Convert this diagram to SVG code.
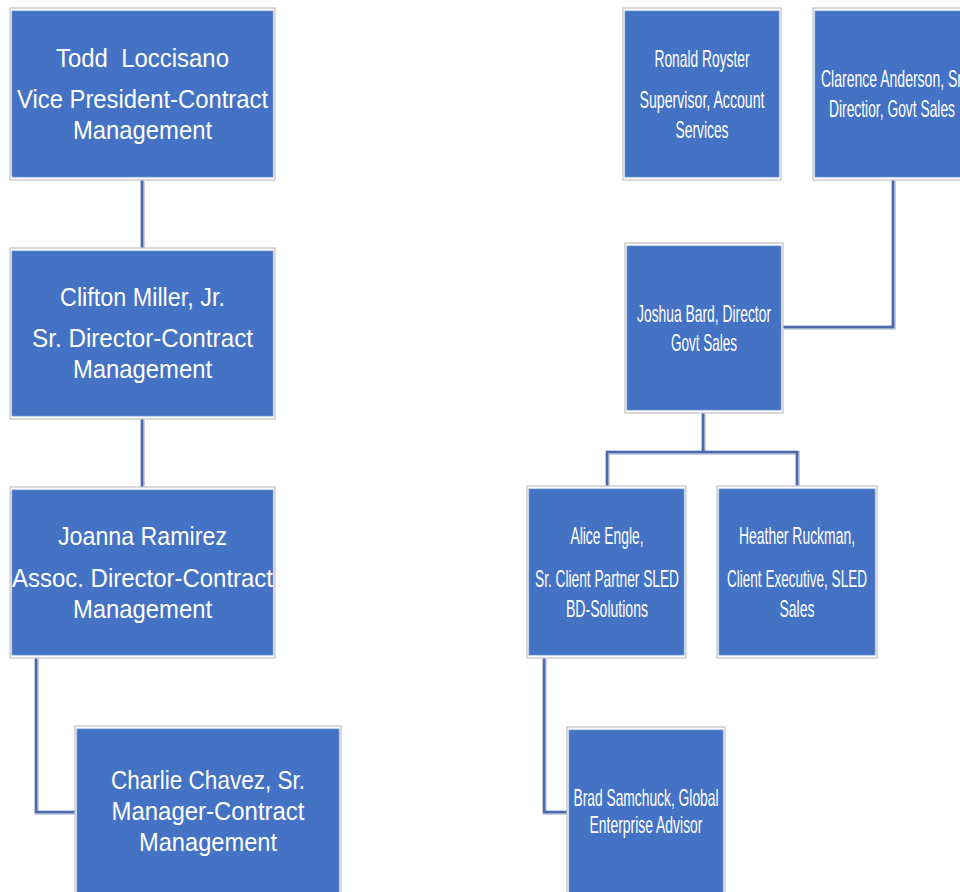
<svg xmlns="http://www.w3.org/2000/svg" width="960" height="892" viewBox="0 0 960 892">
<style>
.frame{fill:#ffffff;stroke:#c2c2c2;stroke-width:1.2}
.fill{fill:#4472c4;stroke:#6d8fd0;stroke-width:0.8}
.conn{fill:none;stroke:#4a6aad;stroke-width:2.6;stroke-linejoin:miter}
.shadow{fill:none;stroke:#b8c4dc;stroke-width:4;stroke-linejoin:miter}
.t{fill:#ffffff;font-family:"Liberation Sans",Arial,sans-serif;font-size:26px;text-anchor:middle}
.n{fill:#ffffff;font-family:"Liberation Sans Narrow","Liberation Sans",Arial,sans-serif;font-size:24px;text-anchor:middle}
</style>
<rect width="960" height="892" fill="#ffffff"/>
<g id="connectors">
<path class="shadow" d="M142,180 V248 M142,419 V487 M36,658 V812 H75 M893,180 V327 H783 M703,413 V452 M607,487 V452 H797 V487 M544,658 V812 H567" transform="translate(0.8,0.8)"/>
<path class="conn" d="M142,180 V248 M142,419 V487 M36,658 V812 H75 M893,180 V327 H783 M703,413 V452 M607,487 V452 H797 V487 M544,658 V812 H567"/>
</g>
<g id="todd">
<rect class="frame" x="10" y="8" width="265" height="172"/>
<rect class="fill" x="12" y="11" width="261" height="166"/>
<text class="t" x="142.5" y="67" textLength="173" lengthAdjust="spacingAndGlyphs" style="white-space:pre">Todd  Loccisano</text>
<text class="t" x="142.5" y="108" textLength="251" lengthAdjust="spacingAndGlyphs">Vice President-Contract</text>
<text class="t" x="142.5" y="139" textLength="139" lengthAdjust="spacingAndGlyphs">Management</text>
</g>
<g id="clifton">
<rect class="frame" x="10" y="248" width="265" height="171"/>
<rect class="fill" x="12" y="251" width="261" height="165"/>
<text class="t" x="142.5" y="306" textLength="165" lengthAdjust="spacingAndGlyphs">Clifton Miller, Jr.</text>
<text class="t" x="142.5" y="347" textLength="221" lengthAdjust="spacingAndGlyphs">Sr. Director-Contract</text>
<text class="t" x="142.5" y="378" textLength="139" lengthAdjust="spacingAndGlyphs">Management</text>
</g>
<g id="joanna">
<rect class="frame" x="10" y="487" width="265" height="171"/>
<rect class="fill" x="12" y="490" width="261" height="165"/>
<text class="t" x="142.5" y="545" textLength="169" lengthAdjust="spacingAndGlyphs">Joanna Ramirez</text>
<text class="t" x="142.5" y="587" textLength="261" lengthAdjust="spacingAndGlyphs">Assoc. Director-Contract</text>
<text class="t" x="142.5" y="618" textLength="139" lengthAdjust="spacingAndGlyphs">Management</text>
</g>
<g id="charlie">
<rect class="frame" x="75" y="726" width="266" height="180"/>
<rect class="fill" x="77" y="729" width="262" height="180"/>
<text class="t" x="208" y="789" textLength="194" lengthAdjust="spacingAndGlyphs">Charlie Chavez, Sr.</text>
<text class="t" x="208" y="820" textLength="193" lengthAdjust="spacingAndGlyphs">Manager-Contract</text>
<text class="t" x="208" y="851" textLength="138" lengthAdjust="spacingAndGlyphs">Management</text>
</g>
<g id="ronald">
<rect class="frame" x="623" y="8" width="158" height="172"/>
<rect class="fill" x="625" y="11" width="154" height="166"/>
<text class="n" x="702" y="67" textLength="95" lengthAdjust="spacingAndGlyphs">Ronald Royster</text>
<text class="n" x="702" y="108" textLength="125" lengthAdjust="spacingAndGlyphs">Supervisor, Account</text>
<text class="n" x="702" y="138" textLength="53" lengthAdjust="spacingAndGlyphs">Services</text>
</g>
<g id="clarence">
<rect class="frame" x="813" y="8" width="158" height="172"/>
<rect class="fill" x="815" y="11" width="154" height="166"/>
<text class="n" x="821" y="87" textLength="141" lengthAdjust="spacingAndGlyphs" style="text-anchor:start">Clarence Anderson, Sr</text>
<text class="n" x="892" y="117" textLength="126" lengthAdjust="spacingAndGlyphs">Directior, Govt Sales</text>
</g>
<g id="joshua">
<rect class="frame" x="625" y="243" width="158" height="170"/>
<rect class="fill" x="627" y="246" width="154" height="164"/>
<text class="n" x="704" y="322" textLength="134" lengthAdjust="spacingAndGlyphs">Joshua Bard, Director</text>
<text class="n" x="704" y="351" textLength="66" lengthAdjust="spacingAndGlyphs">Govt Sales</text>
</g>
<g id="alice">
<rect class="frame" x="527" y="486" width="159" height="172"/>
<rect class="fill" x="529" y="489" width="155" height="166"/>
<text class="n" x="607" y="544" textLength="73" lengthAdjust="spacingAndGlyphs">Alice Engle,</text>
<text class="n" x="607" y="587" textLength="144" lengthAdjust="spacingAndGlyphs">Sr. Client Partner SLED</text>
<text class="n" x="607" y="617" textLength="82" lengthAdjust="spacingAndGlyphs">BD-Solutions</text>
</g>
<g id="heather">
<rect class="frame" x="717" y="486" width="160" height="172"/>
<rect class="fill" x="719" y="489" width="156" height="166"/>
<text class="n" x="797" y="544" textLength="116" lengthAdjust="spacingAndGlyphs">Heather Ruckman,</text>
<text class="n" x="797" y="587" textLength="140" lengthAdjust="spacingAndGlyphs">Client Executive, SLED</text>
<text class="n" x="797" y="617" textLength="35" lengthAdjust="spacingAndGlyphs">Sales</text>
</g>
<g id="brad">
<rect class="frame" x="567" y="727" width="158" height="180"/>
<rect class="fill" x="569" y="730" width="154" height="180"/>
<text class="n" x="646" y="806" textLength="145" lengthAdjust="spacingAndGlyphs">Brad Samchuck, Global</text>
<text class="n" x="646" y="833" textLength="113" lengthAdjust="spacingAndGlyphs">Enterprise Advisor</text>
</g>
</svg>
